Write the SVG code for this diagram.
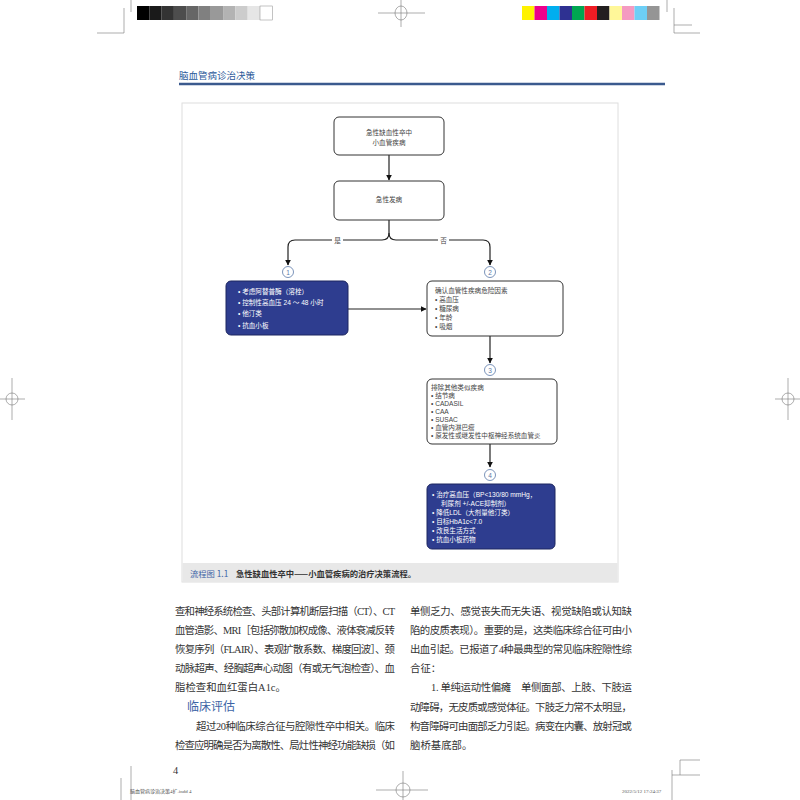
<svg xmlns="http://www.w3.org/2000/svg" width="800" height="800" viewBox="0 0 800 800">
<defs>
<marker id="arr" viewBox="0 0 10 10" refX="9" refY="5" markerWidth="6" markerHeight="6" markerUnits="userSpaceOnUse" orient="auto"><path d="M0,0 L10,5 L0,10 Z" fill="#111"/></marker>
<style>
.fc{font-family:"Liberation Sans","Noto Sans CJK SC",sans-serif;font-size:6.6px;fill:#444}
.fw{font-family:"Liberation Sans","Noto Sans CJK SC",sans-serif;font-size:6.6px;fill:#ffffff}
.box{fill:#ffffff;stroke:#333;stroke-width:1}
.bbox{fill:#2e3d8f;stroke:#1d2660;stroke-width:1}
.con{fill:none;stroke:#222;stroke-width:1.2}
.num{fill:#fff;stroke:#5a78a8;stroke-width:0.8}
.numt{font-family:"Liberation Sans",sans-serif;font-size:6.5px;fill:#5a78a8;text-anchor:middle}
.body{font-family:"Liberation Serif","Noto Sans CJK SC",serif;font-size:10.4px;fill:#333}
.reg{fill:none;stroke:#777;stroke-width:0.6}
.foot{font-family:"Liberation Serif","Noto Sans CJK SC",serif;font-size:5px;fill:#555}
</style>
</defs>
<rect width="800" height="800" fill="#ffffff"/>

<!-- print marks -->
<g id="printmarks">
<g id="graybar">
<rect x="137" y="6" width="12.3" height="14" fill="#000"/>
<rect x="149.3" y="6" width="12.3" height="14" fill="#1a1a1a"/>
<rect x="161.6" y="6" width="12.3" height="14" fill="#333"/>
<rect x="173.9" y="6" width="12.3" height="14" fill="#4d4d4d"/>
<rect x="186.2" y="6" width="12.3" height="14" fill="#666"/>
<rect x="198.5" y="6" width="12.3" height="14" fill="#808080"/>
<rect x="210.8" y="6" width="12.3" height="14" fill="#999"/>
<rect x="223.1" y="6" width="12.3" height="14" fill="#b3b3b3"/>
<rect x="235.4" y="6" width="12.3" height="14" fill="#ccc"/>
<rect x="247.7" y="6" width="12.3" height="14" fill="#e6e6e6"/>
<rect x="260" y="6" width="12.3" height="14" fill="#fff" stroke="#888" stroke-width="0.5"/>
</g>
<g id="colorbar">
<rect x="522" y="6" width="12.5" height="14" fill="#fff200"/>
<rect x="534.5" y="6" width="12.5" height="14" fill="#ec008c"/>
<rect x="547" y="6" width="12.5" height="14" fill="#00aeef"/>
<rect x="559.5" y="6" width="12.5" height="14" fill="#2e3192"/>
<rect x="572" y="6" width="12.5" height="14" fill="#00a651"/>
<rect x="584.5" y="6" width="12.5" height="14" fill="#ed1c24"/>
<rect x="597" y="6" width="12.5" height="14" fill="#231f20"/>
<rect x="609.5" y="6" width="12.5" height="14" fill="#fff799"/>
<rect x="622" y="6" width="12.5" height="14" fill="#f49ac1"/>
<rect x="634.5" y="6" width="12.5" height="14" fill="#6dcff6"/>
<rect x="647" y="6" width="12.5" height="14" fill="#959595"/>
</g>
<ellipse class="reg" cx="401" cy="13" rx="6" ry="7"/>
<path class="reg" d="M378,13 H425 M401,0 V27"/>
<path class="reg" d="M131,0 V12 M124,8 V33 M97,33 H124 M667,0 V12 M674,8 V33 M674,33 H700 M674,25 H692"/>
<circle class="reg" cx="12" cy="399" r="6"/>
<path class="reg" d="M0,399 H25 M12,378 V420"/>
<circle class="reg" cx="788" cy="399" r="6"/>
<path class="reg" d="M775,399 H800 M788,378 V420"/>
<circle class="reg" cx="403" cy="790" r="7"/>
<path class="reg" d="M376,790 H428 M403,771 V800"/>
<path class="reg" d="M121,778 V800 M131,766 V800 M672,770 V800 M672,775 H700 M680,760 H700 M680,760 V775"/>
<text class="foot" x="130" y="793">脑血管病诊治决策4扩.indd   4</text>
<text class="foot" x="622" y="793">2022/5/12   17:24:37</text>
</g>

<!-- header -->
<g id="header">
<text x="179" y="79" font-family="Noto Sans CJK SC, sans-serif" font-size="9.5" fill="#2d5a9a">脑血管病诊治决策</text>
<line x1="179" y1="84" x2="665" y2="84" stroke="#3b5a8e" stroke-width="2.5"/>
</g>

<!-- figure panel -->
<g id="panel">
<rect x="182" y="103" width="436" height="479" fill="#fff" stroke="#dedede" stroke-width="1"/>
<rect x="182.5" y="563" width="435" height="19" fill="#e8e8e8"/>
<text x="190" y="577" font-family="Noto Sans CJK SC, sans-serif" font-size="8.3" fill="#3d64a6">流程图 1.1</text>
<text x="236" y="577" font-family="Noto Sans CJK SC, sans-serif" font-size="8.3" font-weight="bold" fill="#333">急性缺血性卒中——小血管疾病的治疗决策流程。</text>
</g>

<!-- connectors -->
<g id="connectors">
<path class="con" d="M389,155 V180" marker-end="url(#arr)"/>
<path class="con" d="M389,220 V233 Q389,240 382,240 H295 Q288,240 288,247 V265" marker-end="url(#arr)"/>
<path class="con" d="M389,233 Q389,240 396,240 H483 Q490,240 490,247 V265" marker-end="url(#arr)"/>
<rect x="332" y="235" width="11" height="10" fill="#fff"/>
<text class="fc" x="337.5" y="242.5" text-anchor="middle">是</text>
<rect x="438" y="235" width="11" height="10" fill="#fff"/>
<text class="fc" x="443.5" y="242.5" text-anchor="middle">否</text>
<path class="con" d="M348,309 H426" marker-end="url(#arr)"/>
<path class="con" d="M490,336 V363" marker-end="url(#arr)"/>
<path class="con" d="M490,444 V467" marker-end="url(#arr)"/>
</g>

<g id="n1num"><circle class="num" cx="288" cy="272" r="5.5"/><text class="numt" x="288" y="274.5">1</text></g>
<g id="n2num"><circle class="num" cx="490" cy="272" r="5.5"/><text class="numt" x="490" y="274.5">2</text></g>
<g id="n3num"><circle class="num" cx="490" cy="370" r="5.5"/><text class="numt" x="490" y="372.5">3</text></g>
<g id="n4num"><circle class="num" cx="490" cy="475" r="5.5"/><text class="numt" x="490" y="477.5">4</text></g>

<g id="nodeA">
<rect class="box" x="334" y="117" width="110" height="38" rx="5"/>
<text class="fc" x="389" y="135" text-anchor="middle">急性缺血性卒中</text>
<text class="fc" x="389" y="145" text-anchor="middle">小血管疾病</text>
</g>

<g id="nodeB">
<rect class="box" x="334" y="181" width="110" height="39" rx="5"/>
<text class="fc" x="389" y="202" text-anchor="middle">急性发病</text>
</g>

<g id="node1">
<rect class="bbox" x="226" y="281" width="122" height="54" rx="5"/>
<text class="fw" x="238" y="294">•  考虑阿替普酶（溶栓）</text>
<text class="fw" x="238" y="305">•  控制性高血压 24 ～ 48 小时</text>
<text class="fw" x="238" y="316">•  他汀类</text>
<text class="fw" x="238" y="327.5">•  抗血小板</text>
</g>

<g id="node2">
<rect class="box" x="427" y="281" width="136" height="55" rx="5"/>
<text class="fc" x="435" y="292.5">确认血管性疾病危险因素</text>
<text class="fc" x="435" y="301.5">•  高血压</text>
<text class="fc" x="435" y="310.5">•  糖尿病</text>
<text class="fc" x="435" y="319.5">•  年龄</text>
<text class="fc" x="435" y="328.5">•  吸烟</text>
</g>

<g id="node3">
<rect class="box" x="427" y="379" width="130" height="65" rx="5"/>
<text class="fc" x="431" y="389.5">排除其他类似疾病</text>
<text class="fc" x="431" y="398">•  结节病</text>
<text class="fc" x="431" y="406">•  CADASIL</text>
<text class="fc" x="431" y="414">•  CAA</text>
<text class="fc" x="431" y="422">•  SUSAC</text>
<text class="fc" x="431" y="430">•  血管内淋巴瘤</text>
<text class="fc" x="431" y="438">•  原发性或继发性中枢神经系统血管炎</text>
</g>

<g id="node4">
<rect class="bbox" x="427" y="484" width="128" height="65" rx="5"/>
<text class="fw" x="432" y="497">•  治疗高血压（BP&lt;130/80 mmHg，</text>
<text class="fw" x="441" y="506">利尿剂 +/-ACE抑制剂）</text>
<text class="fw" x="432" y="515">•  降低LDL（大剂量他汀类）</text>
<text class="fw" x="432" y="524">•  目标HbA1c&lt;7.0</text>
<text class="fw" x="432" y="533">•  改良生活方式</text>
<text class="fw" x="432" y="542">•  抗血小板药物</text>
</g>

<!-- body text -->
<g id="bodytext">
<text class="body" x="175" y="615" textLength="220" lengthAdjust="spacing">查和神经系统检查、头部计算机断层扫描（CT）、CT</text>
<text class="body" x="175" y="634" textLength="220" lengthAdjust="spacing">血管造影、MRI［包括弥散加权成像、液体衰减反转</text>
<text class="body" x="175" y="653" textLength="220" lengthAdjust="spacing">恢复序列（FLAIR）、表观扩散系数、梯度回波］、颈</text>
<text class="body" x="175" y="672" textLength="220" lengthAdjust="spacing">动脉超声、经胸超声心动图（有或无气泡检查）、血</text>
<text class="body" x="175" y="691">脂检查和血红蛋白A1c。</text>
<text x="187" y="711" font-family="Noto Sans CJK SC, sans-serif" font-size="12" fill="#3d64a6">临床评估</text>
<text class="body" x="196" y="730" textLength="199" lengthAdjust="spacing">超过20种临床综合征与腔隙性卒中相关。临床</text>
<text class="body" x="175" y="749" textLength="220" lengthAdjust="spacing">检查应明确是否为离散性、局灶性神经功能缺损（如</text>
<text class="body" x="410" y="615" textLength="222" lengthAdjust="spacing">单侧乏力、感觉丧失而无失语、视觉缺陷或认知缺</text>
<text class="body" x="410" y="634" textLength="222" lengthAdjust="spacing">陷的皮质表现）。重要的是，这类临床综合征可由小</text>
<text class="body" x="410" y="653" textLength="222" lengthAdjust="spacing">出血引起。已报道了4种最典型的常见临床腔隙性综</text>
<text class="body" x="410" y="672">合征：</text>
<text class="body" x="431" y="691" textLength="201" lengthAdjust="spacing">1. 单纯运动性偏瘫　单侧面部、上肢、下肢运</text>
<text class="body" x="410" y="711" textLength="222" lengthAdjust="spacing">动障碍，无皮质或感觉体征。下肢乏力常不太明显，</text>
<text class="body" x="410" y="730" textLength="222" lengthAdjust="spacing">构音障碍可由面部乏力引起。病变在内囊、放射冠或</text>
<text class="body" x="410" y="749">脑桥基底部。</text>
<text class="body" x="173" y="774" font-size="11">4</text>
</g>
</svg>
